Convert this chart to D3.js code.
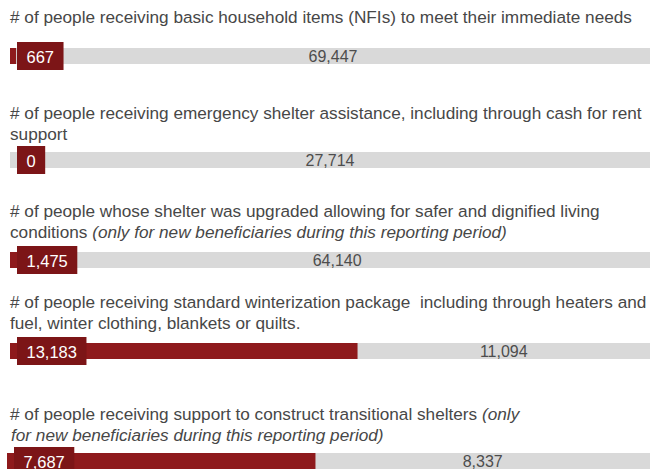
<!DOCTYPE html>
<html><head><meta charset="utf-8">
<script src="https://cdn.jsdelivr.net/npm/d3@7/dist/d3.min.js"></script>
<style>
html,body{margin:0;padding:0;background:#fff;overflow:hidden}
svg{display:block;font-family:"Liberation Sans",Arial,sans-serif}
</style></head>
<body><svg id="c" width="650" height="469"></svg>
<script>
// indicator titles: each line is a list of [text, italic] segments
const titles = [
  [[["# of people receiving basic household items (NFIs) to meet their immediate needs", false]]],
  [[["# of people receiving emergency shelter assistance, including through cash for rent", false]], [["support", false]]],
  [[["# of people whose shelter was upgraded allowing for safer and dignified living", false]], [["conditions ", false], ["(only for new beneficiaries during this reporting period)", true]]],
  [[["# of people receiving standard winterization package\u00a0 including through heaters and", false]], [["fuel, winter clothing, blankets or quilts.", false]]],
  [[["# of people receiving support to construct transitional shelters ", false], ["(only", true]], [["for new beneficiaries during this reporting period)", true]]]
];
const achieved = [667, 0, 1475, 13183, 7687];
const remaining = [69447, 27714, 64140, 11094, 8337];

// layout
const titleY = [23, 119, 217, 308, 420];
const barY = [48, 152, 252, 343, 453];
const barX0 = [10, 10, 10, 10, 7];
const lineH = 20.5;
const barH = 16;
const red = "#8e1a1c", redDark = "#7c1517", grey = "#d9d9d9";

const svg = d3.select("#c");
const fmt = d3.format(",");

titles.forEach((lines, i) => {
  const t = svg.append("text").attr("x", 10).attr("y", titleY[i])
    .attr("font-size", 17.2).attr("fill", "#474747");
  lines.forEach((segs, li) => {
    segs.forEach((s, si) => {
      const ts = t.append("tspan").text(s[0]).attr("font-style", s[1] ? "italic" : "normal")
        .style("white-space", "pre");
      if (si === 0) ts.attr("x", li === 1 && s[1] ? 11 : 10).attr("y", titleY[i] + li * lineH);
    });
  });
  t.style("white-space", "pre");

  const x = d3.scaleLinear().domain([0, achieved[i] + remaining[i]]).range([barX0[i], 650]);
  const y = barY[i];
  svg.append("rect").attr("x", x(0)).attr("y", y).attr("width", x(achieved[i] + remaining[i]) - x(0))
    .attr("height", barH).attr("fill", grey);
  svg.append("rect").attr("x", x(0)).attr("y", y).attr("width", x(achieved[i]) - x(0))
    .attr("height", barH).attr("fill", red);
  // remaining value, centered in grey part
  svg.append("text").attr("x", (x(achieved[i]) + x(achieved[i] + remaining[i])) / 2)
    .attr("y", y + 14).attr("text-anchor", "middle").attr("font-size", 16)
    .attr("fill", "#4d4d4d").text(fmt(remaining[i]));
  // achieved label box
  const g = svg.append("g");
  const lab = g.append("text").attr("font-size", 16.5).attr("fill", "#fff").text(fmt(achieved[i]));
  const tw = lab.node().getComputedTextLength();
  const bx = x(0) + 7, bw = tw + 19, by = y - 6;
  g.insert("rect", "text").attr("x", bx).attr("y", by).attr("width", bw).attr("height", 28).attr("fill", redDark);
  lab.attr("x", bx + bw / 2).attr("y", by + 21).attr("text-anchor", "middle");
});
</script></body></html>
